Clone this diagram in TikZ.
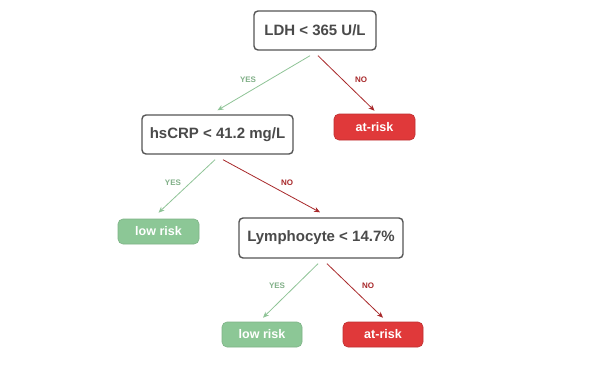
\documentclass[tikz,border=0pt]{standalone}
\usepackage{fontspec}
\setmainfont{Liberation Sans}
\usetikzlibrary{arrows.meta}
\definecolor{txtgray}{HTML}{4A4A4A}
\definecolor{boxgray}{HTML}{555555}
\definecolor{leafgreen}{HTML}{8CC796}
\definecolor{leafred}{HTML}{E0393A}
\definecolor{arrgreen}{HTML}{8FC497}
\definecolor{arrred}{HTML}{A8282A}
\tikzset{
  question/.style={draw=boxgray, line width=1.4pt, rounded corners=4pt, fill=white,
    text=txtgray, font=\fontsize{15}{18}\selectfont\bfseries, inner sep=0pt},
  leaf/.style={rounded corners=5pt, text=white, font=\fontsize{12.5}{15}\selectfont\bfseries, inner sep=0pt,
    minimum width=80pt, minimum height=25pt},
  lowleaf/.style={leaf, fill=leafgreen, draw=leafgreen!90!black, line width=0.6pt},
  riskleaf/.style={leaf, fill=leafred, draw=leafred!85!black, line width=0.6pt},
  yesarr/.style={draw=arrgreen, line width=0.8pt, -{Stealth[length=6pt,width=5pt]}},
  noarr/.style={draw=arrred, line width=0.8pt, -{Stealth[length=6pt,width=5pt]}},
  yeslab/.style={text=arrgreen!90!black, font=\fontsize{8}{9}\selectfont\bfseries},
  nolab/.style={text=arrred, font=\fontsize{8}{9}\selectfont\bfseries},
}
\begin{document}
\begin{tikzpicture}[x=1pt,y=-1pt]
\useasboundingbox[fill=white] (0,0) rectangle (601,375);
\node[question, minimum width=122pt, minimum height=39pt] (ldh) at (315,30.5) {LDH < 365 U/L};
\node[question, minimum width=151pt, minimum height=39pt] (crp) at (217.5,134.5) {hsCRP < 41.2 mg/L};
\node[riskleaf, minimum width=81pt, minimum height=26pt] (risk1) at (374.5,127) {at-risk};
\node[lowleaf, minimum width=81pt] (low1) at (158.5,231.5) {low risk};
\node[question, minimum width=164pt, minimum height=40pt] (lym) at (321,238) {Lymphocyte < 14.7\%};
\node[lowleaf] (low2) at (262,334.5) {low risk};
\node[riskleaf] (risk2) at (383,334.5) {at-risk};

\draw[yesarr] ([xshift=-5pt,yshift=-5pt]ldh.south) -- ([yshift=4pt]crp.north);
\draw[noarr] ([xshift=3pt,yshift=-5pt]ldh.south) -- ([yshift=3pt]risk1.north);
\node[yeslab] (y1) at (248,80) {YES};
\node[nolab] (n1) at (361,80) {NO};

\draw[yesarr] ([xshift=-2.5pt,yshift=-5pt]crp.south) -- ([yshift=6pt]low1.north);
\draw[noarr] ([xshift=5.5pt,yshift=-5pt]crp.south) -- ([yshift=5pt,xshift=-1pt]lym.north);
\node[yeslab] (y2) at (173,183) {YES};
\node[nolab] (n2) at (287,183) {NO};

\draw[yesarr] ([xshift=-3pt,yshift=-5pt]lym.south) -- ([yshift=4pt,xshift=1pt]low2.north);
\draw[noarr] ([xshift=6pt,yshift=-5pt]lym.south) -- ([yshift=4pt]risk2.north);
\node[yeslab] (y3) at (277,286) {YES};
\node[nolab] (n3) at (368,286) {NO};
\end{tikzpicture}
\end{document}
